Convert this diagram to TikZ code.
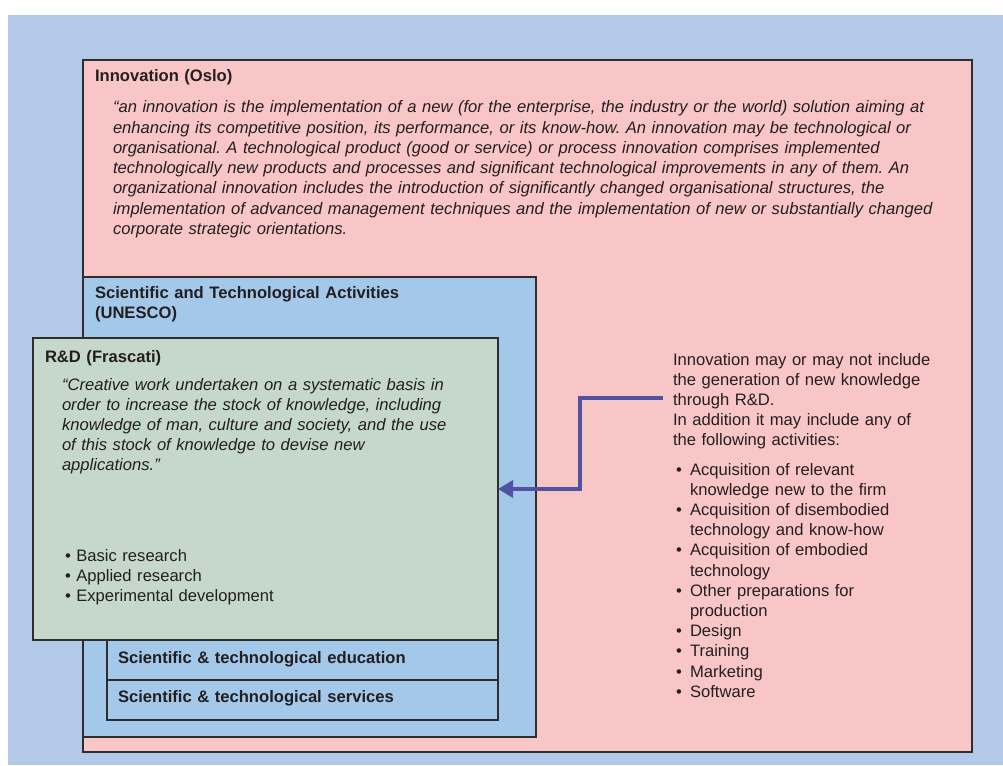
\documentclass[tikz,border=0pt]{standalone}
\usepackage{fontspec}
\setmainfont{Liberation Sans}
\usetikzlibrary{arrows.meta}
\definecolor{bgblue}{HTML}{B4C9E7}
\definecolor{pinkc}{HTML}{F9C6C7}
\definecolor{unescoc}{HTML}{A3C8EA}
\definecolor{greenc}{HTML}{C5D8C9}
\definecolor{arrowc}{HTML}{5252A3}
\definecolor{bordercol}{HTML}{2E2E2E}
\definecolor{txtcol}{HTML}{231F20}
\newcommand{\txtfont}{\fontsize{16.6}{20.2}\selectfont}
\newcommand{\bul}{\makebox[17pt][l]{\hspace*{3pt}•}}
\frenchspacing
\begin{document}
\begin{tikzpicture}[x=1pt,y=-1pt,
  box/.style={draw=bordercol, line width=1.2pt, inner sep=0pt, outer sep=0pt, anchor=north west},
  txt/.style={anchor=base west, inner sep=0pt, outer sep=0pt, align=left, text=txtcol, text width=#1, font=\txtfont},
  txt/.default=880pt,
  ttl/.style={txt=#1, font=\txtfont\bfseries},
  ttl/.default=880pt,
  qt/.style={txt=#1, font=\txtfont\itshape},
  qt/.default=880pt,
  link/.style={draw=arrowc, line width=3.4pt, -{Triangle[length=15pt,width=17pt]}}
]
\useasboundingbox (0,0) rectangle (1003,765);
\fill[white] (0,0) rectangle (1003,765);
\fill[bgblue] (8,15) rectangle (1003,765);

% boxes
\node[box, fill=pinkc, minimum width=889pt, minimum height=692pt] (oslo) at (83,60) {};
\node[box, fill=unescoc, minimum width=453pt, minimum height=460pt] (unesco) at (83,277) {};
\node[box, fill=unescoc, minimum width=391pt, minimum height=40pt] (edu) at (107,640) {};
\node[box, fill=unescoc, minimum width=391pt, minimum height=40pt] (serv) at (107,680) {};
\node[box, fill=greenc, minimum width=465pt, minimum height=302pt] (rd) at (33,338) {};

% Oslo texts
\node[ttl] (oslotitle) at (95,82) {Innovation (Oslo)};
\node[qt] (osloquote) at (113,113) {“an innovation is the implementation of a new (for the enterprise, the industry or the world) solution aiming at\\
enhancing its competitive position, its performance, or its know-how. An innovation may be technological or\\
organisational. A technological product (good or service) or process innovation comprises implemented\\
technologically new products and processes and significant technological improvements in any of them. An\\
organizational innovation includes the introduction of significantly changed organisational structures, the\\
implementation of advanced management techniques and the implementation of new or substantially changed\\
corporate strategic orientations.};

% UNESCO texts
\node[ttl=430pt] (unescotitle) at (95,298) {Scientific and Technological Activities\\(UNESCO)};
\node[ttl=380pt] (edutext) at (118,663) {Scientific \& technological education};
\node[ttl=380pt] (servtext) at (118,702) {Scientific \& technological services};

% R&D texts
\node[ttl=440pt] (rdtitle) at (45,362) {R\&D (Frascati)};
\node[qt=430pt] (rdquote) at (62,390) {“Creative work undertaken on a systematic basis in\\
order to increase the stock of knowledge, including\\
knowledge of man, culture and society, and the use\\
of this stock of knowledge to devise new\\
applications.”};
\node[txt=420pt] (rdlist) at (65,561) {•\ Basic research\\
•\ Applied research\\
•\ Experimental development};

% right texts
\node[txt=290pt] (note) at (673,365) {Innovation may or may not include\\
the generation of new knowledge\\
through R\&D.\\
In addition it may include any of\\
the following activities:};
\node[txt=290pt] (actlist) at (673,475) {\bul Acquisition of relevant\\
\hspace*{17pt}knowledge new to the firm\\
\bul Acquisition of disembodied\\
\hspace*{17pt}technology and know-how\\
\bul Acquisition of embodied\\
\hspace*{17pt}technology\\
\bul Other preparations for\\
\hspace*{17pt}production\\
\bul Design\\
\bul Training\\
\bul Marketing\\
\bul Software};

% arrow
\coordinate (astart) at (663,398);
\coordinate (abend) at (580,398);
\draw[link] (astart) -- (abend) |- (rd.east);
\end{tikzpicture}
\end{document}
